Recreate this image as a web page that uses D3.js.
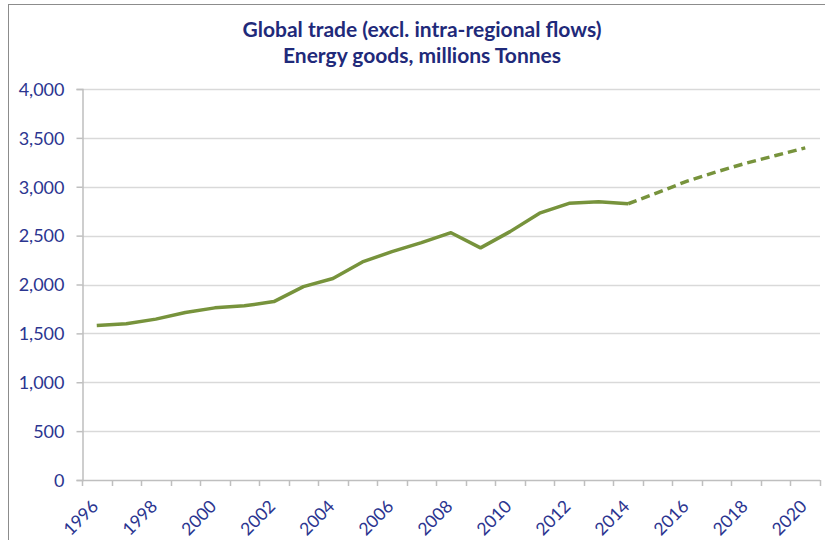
<!DOCTYPE html>
<html>
<head>
<meta charset="utf-8">
<script src="https://cdn.jsdelivr.net/npm/d3@7"></script>
<style>
  html, body { margin: 0; padding: 0; background: #fff; }
  svg { display: block; }
</style>
</head>
<body>
<svg id="chart" width="825" height="540"></svg>
<script>
const titleLines = ["Global trade (excl. intra-regional flows)", "Energy goods, millions Tonnes"];
const years = [1996,1997,1998,1999,2000,2001,2002,2003,2004,2005,2006,2007,2008,2009,2010,2011,2012,2013,2014,2015,2016,2017,2018,2019,2020];
const actualValues = [1580,1598,1646,1714,1761,1782,1825,1978,2062,2231,2336,2429,2530,2375,2541,2730,2830,2847,2826];
const forecastYears = [2014,2015,2016,2017,2018,2019,2020];
const forecastValues = [2826,2939,3058,3153,3242,3320,3398];
const yTicks = [0,500,1000,1500,2000,2500,3000,3500,4000];
const xLabelYears = [1996,1998,2000,2002,2004,2006,2008,2010,2012,2014,2016,2018,2020];

(function () {
const svg = d3.select("#chart");
const pLeft = 82, pRight = 820, pTop = 89, pBottom = 480;
const textColor = "#2b3590";
const font = "Lato, 'Open Sans', sans-serif";

// border
svg.append("rect").attr("x", 8.5).attr("y", 4.5).attr("width", 840).attr("height", 600)
  .attr("fill", "#fff").attr("stroke", "#8c8c8c").attr("stroke-width", 1);

const x = d3.scaleBand().domain(years).range([pLeft, pRight]).padding(0);
const y = d3.scaleLinear().domain([0, 4000]).range([pBottom, pTop]);

// gridlines
svg.append("g").selectAll("line").data(yTicks.filter(d => d > 0)).join("line")
  .attr("x1", pLeft).attr("x2", pRight)
  .attr("y1", d => Math.round(y(d)) + 0.5).attr("y2", d => Math.round(y(d)) + 0.5)
  .attr("stroke", "#d9d9d9").attr("stroke-width", 1.5);

// y axis
const yAxis = d3.axisLeft(y).tickValues(yTicks).tickSize(6).tickPadding(12)
  .tickFormat(d3.format(","));
const gy = svg.append("g").attr("transform", `translate(${pLeft + 0.5},0)`).call(yAxis);
gy.select(".domain").attr("stroke", "#bfbfbf").attr("stroke-width", 1.5);
gy.selectAll(".tick line").attr("stroke", "#bfbfbf").attr("stroke-width", 1.5);
gy.selectAll(".tick text").attr("fill", textColor).attr("font-family", font)
  .attr("font-size", 18).attr("dy", "0.35em");

// x axis line and ticks at category boundaries
const boundaries = years.map(d => x(d)).concat([pRight]);
svg.append("line").attr("x1", pLeft).attr("x2", pRight)
  .attr("y1", pBottom + 0.5).attr("y2", pBottom + 0.5)
  .attr("stroke", "#bfbfbf").attr("stroke-width", 1.5);
svg.append("g").selectAll("line").data(boundaries).join("line")
  .attr("x1", d => Math.round(d) + 0.5).attr("x2", d => Math.round(d) + 0.5)
  .attr("y1", pBottom).attr("y2", pBottom + 6)
  .attr("stroke", "#bfbfbf").attr("stroke-width", 1.5);

// x labels
svg.append("g").selectAll("text").data(xLabelYears).join("text")
  .attr("transform", d => `translate(${x(d) + x.bandwidth() / 2 - 6},${pBottom + 19}) rotate(-45)`)
  .attr("text-anchor", "end").attr("dy", "0.7em")
  .attr("fill", textColor).attr("font-family", font).attr("font-size", 17.5)
  .text(d => d);

// lines
const cx = d => x(d) + x.bandwidth() / 2;
const line = d3.line().x(d => cx(d[0])).y(d => y(d[1]));
const actual = years.slice(0, actualValues.length).map((yr, i) => [yr, actualValues[i]]);
const forecast = forecastYears.map((yr, i) => [yr, forecastValues[i]]);
svg.append("path").datum(actual).attr("d", line)
  .attr("fill", "none").attr("stroke", "#77933c").attr("stroke-width", 3.5)
  .attr("stroke-linejoin", "round");
svg.append("path").datum(forecast).attr("d", line)
  .attr("fill", "none").attr("stroke", "#77933c").attr("stroke-width", 3.5)
  .attr("stroke-dasharray", "9,5");

// title
svg.append("g").selectAll("text").data(titleLines).join("text")
  .attr("x", 422).attr("y", (d, i) => 37 + i * 26)
  .attr("text-anchor", "middle").attr("font-family", font)
  .attr("font-weight", "bold").attr("font-size", 21).attr("fill", "#1f2a7a")
  .text(d => d);
})();
</script>
</body>
</html>
